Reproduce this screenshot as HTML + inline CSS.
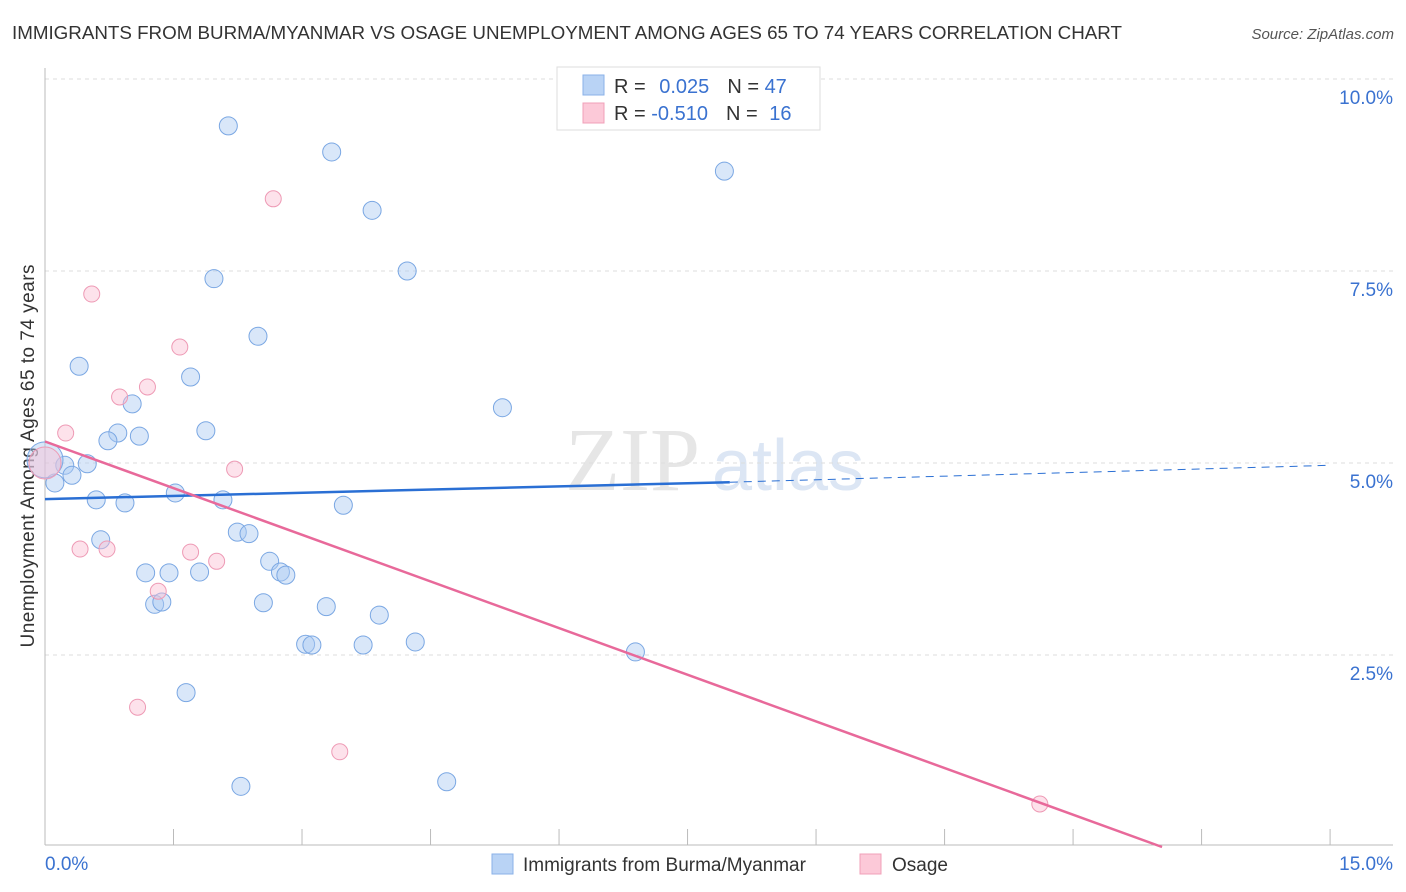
<!DOCTYPE html>
<html><head><meta charset="utf-8"><style>
body{margin:0;background:#fff;font-family:"Liberation Sans",sans-serif;}
#wrap{position:relative;width:1406px;height:892px;overflow:hidden;}
</style></head><body>
<div id="wrap">
<svg id="svg" width="1406" height="892" xmlns="http://www.w3.org/2000/svg">
<text x="12" y="39" font-size="18.8" fill="#333" textLength="1110">IMMIGRANTS FROM BURMA/MYANMAR VS OSAGE UNEMPLOYMENT AMONG AGES 65 TO 74 YEARS CORRELATION CHART</text>
<text x="1394" y="39" font-size="15" fill="#555" font-style="italic" text-anchor="end">Source: ZipAtlas.com</text>
<text x="700" y="490" font-size="90" fill="#e6e6e6" text-anchor="end" font-family="Liberation Serif">ZIP</text>
<text x="712" y="490" font-size="72" fill="#dce6f4">atlas</text>
<text transform="translate(34,456) rotate(-90)" font-size="19" fill="#333" text-anchor="middle" textLength="383">Unemployment Among Ages 65 to 74 years</text>
<g id="grid"></g><g id="marks"></g>
<g>
<rect x="557" y="67" width="263" height="63" fill="#fff" stroke="#ddd"/>
<rect x="583" y="75" width="21" height="20" fill="#b9d3f5" stroke="#8ab2e8"/>
<rect x="583" y="103" width="21" height="20" fill="#fcc9d8" stroke="#f0a0b8"/>
<text x="614" y="93" font-size="20" fill="#333">R = <tspan fill="#3a72d0" dx="8">0.025</tspan><tspan dx="18" fill="#333">N = </tspan><tspan fill="#3a72d0">47</tspan></text>
<text x="614" y="120" font-size="20" fill="#333">R = <tspan fill="#3a72d0">-0.510</tspan><tspan dx="18" fill="#333">N = </tspan><tspan fill="#3a72d0" dx="6">16</tspan></text>
</g>
<g>
<rect x="492" y="854" width="21" height="20" fill="#b9d3f5" stroke="#8ab2e8"/>
<text x="523" y="871" font-size="19" fill="#333">Immigrants from Burma/Myanmar</text>
<rect x="860" y="854" width="21" height="20" fill="#fcc9d8" stroke="#f0a0b8"/>
<text x="892" y="871" font-size="19" fill="#333">Osage</text>
</g>
</svg>
</div>
<script>
const blueX=[2.04,3.19,7.56,3.64,1.88,4.03,2.37,0.38,1.62,0.97,5.09,1.79,0.81,1.05,0.70,0.22,0.47,0.30,0.11,0.57,0.89,1.45,1.98,3.32,2.14,2.27,0.62,2.50,2.62,2.68,1.12,1.38,1.72,1.22,1.30,2.43,3.13,3.72,2.90,2.97,3.54,4.12,6.57,1.57,2.18,4.47,0.0];
const blueY=[9.39,9.05,8.80,8.29,7.40,7.50,6.65,6.26,6.12,5.77,5.72,5.42,5.39,5.35,5.29,4.97,4.99,4.84,4.74,4.52,4.48,4.61,4.52,4.45,4.10,4.08,4.00,3.72,3.58,3.54,3.57,3.57,3.58,3.16,3.19,3.18,3.13,3.02,2.64,2.63,2.63,2.67,2.54,2.01,0.79,0.85,5.04];
const pinkX=[2.54,0.52,1.50,1.14,0.83,0.23,2.11,0.39,0.69,1.62,1.91,1.26,1.03,3.28,11.07,0.0];
const pinkY=[8.44,7.20,6.51,5.99,5.86,5.39,4.92,3.88,3.88,3.84,3.72,3.33,1.82,1.24,0.56,5.0];
const yTicks=[2.5,5.0,7.5,10.0];
const yTickLabels=["2.5%","5.0%","7.5%","10.0%"];
const xTicks=[0,1.43,2.86,4.29,5.72,7.15,8.58,10.01,11.44,12.87,14.3];
const blueTrendX=[0,7.62,14.3];
const blueTrendY=[4.53,4.75,4.97];
const pinkTrendX=[0,12.43];
const pinkTrendY=[5.28,0];
const X=v=>45+v/15*1348, Y=v=>847-v*76.8;
const NS="http://www.w3.org/2000/svg";
function mk(t,a,p){const e=document.createElementNS(NS,t);for(const k in a)e.setAttribute(k,a[k]);p.appendChild(e);return e;}
const g=document.getElementById('grid'), m=document.getElementById('marks');
yTicks.forEach((t,i)=>{
 const l=mk('line',{x1:45,x2:1393,y1:Y(t),y2:Y(t),stroke:'#ddd','stroke-dasharray':'4,4'},g);
 
 
 const tx=mk('text',{x:1393,y:Y(t)+25,'font-size':19,fill:'#3a72d0','text-anchor':'end'},g);
 tx.textContent=yTickLabels[i];
 
 
});
const ax=mk('line',{x1:45,x2:45,y1:68,y2:845,stroke:'#bbb'},g);


const bx=mk('line',{x1:45,x2:1393,y1:845,y2:845,stroke:'#bbb'},g);


xTicks.forEach(t=>{
 const l=mk('line',{x1:X(t),x2:X(t),y1:829,y2:845,stroke:'#bbb'},g);
 
 
});
let t1=mk('text',{x:45,y:870,'font-size':19,fill:'#3a72d0'},g);t1.textContent='0.0%';


let t2=mk('text',{x:1393,y:870,'font-size':19,fill:'#3a72d0','text-anchor':'end'},g);t2.textContent='15.0%';


blueX.forEach((v,i)=>{
 const big=i==blueX.length-1;
 const c=mk('circle',{cx:X(v),cy:Y(blueY[i]),r:big?18:9,fill:'rgba(170,202,242,0.45)',stroke:'#7aa7e3','stroke-width':1},m);
 
 
});
pinkX.forEach((v,i)=>{
 const big=i==pinkX.length-1;
 const c=mk('circle',{cx:X(v),cy:Y(pinkY[i]),r:big?16:8,fill:'rgba(250,190,210,0.45)',stroke:'#ee9ab5','stroke-width':1},m);
 
 
});
let bl=mk('line',{x1:X(blueTrendX[0]),y1:Y(blueTrendY[0]),x2:X(blueTrendX[1]),y2:Y(blueTrendY[1]),stroke:'#2a6fd4','stroke-width':2.5},m);


let bd=mk('line',{x1:X(blueTrendX[1]),y1:Y(blueTrendY[1]),x2:X(blueTrendX[2]),y2:Y(blueTrendY[2]),stroke:'#2a6fd4','stroke-width':1,'stroke-dasharray':'8,6'},m);


let pl=mk('line',{x1:X(pinkTrendX[0]),y1:Y(pinkTrendY[0]),x2:X(pinkTrendX[1]),y2:Y(pinkTrendY[1]),stroke:'#e8699a','stroke-width':2.5},m);


</script>
</body></html>
